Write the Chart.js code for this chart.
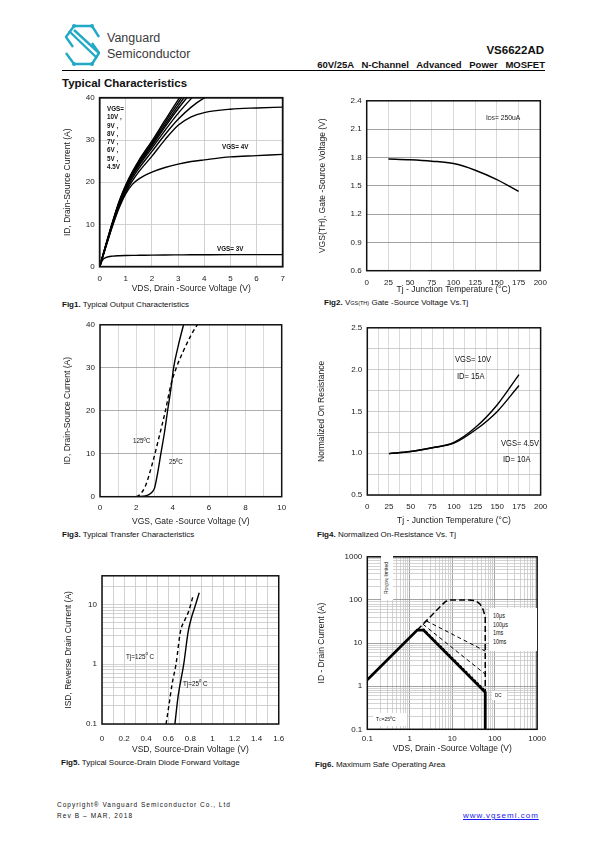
<!DOCTYPE html>
<html>
<head>
<meta charset="utf-8">
<script src="https://cdn.jsdelivr.net/npm/chart.js@4.4.1/dist/chart.umd.min.js"></script>
<style>
  body { margin: 0; background: #fff; }
  #page { position: relative; width: 595px; height: 842px; overflow: hidden; font-family: 'Liberation Sans', Arial, sans-serif; color: #111; }
  .abs { position: absolute; white-space: nowrap; line-height: 1; }
  canvas { position: absolute; }
  .cap { font-size: 8px; }
  .nar { transform: scaleX(0.84); transform-origin: 0 0; }
  .wbox { position: absolute; background: #fff; z-index: 5; }
  .lbl { z-index: 6; }
</style>
</head>
<body>
<div id="page">
  <!-- header -->
  <svg class="abs" style="left:62px;top:22px" width="42" height="46" viewBox="62 22 42 46">
    <g fill="none" stroke="#22a9c6" stroke-width="2.4" stroke-linejoin="round">
      <path d="M74 26 H92 L99 37"/>
      <path d="M74 26 L66 37 L73 47"/>
      <path d="M69 31 L97 58"/>
      <path d="M74 30 L99 53"/>
      <path d="M92 43 L99 53 L92 64 H74 L66 53"/>
    </g>
    <g fill="#22a9c6">
      <circle cx="74" cy="26" r="2"/><circle cx="92" cy="26" r="2"/>
      <circle cx="74" cy="64" r="2"/><circle cx="92" cy="64" r="2"/>
    </g>
  </svg>
  <div class="abs" style="left:107px;top:32px;font-size:12.5px;color:#3a3a3a">Vanguard</div>
  <div class="abs" style="left:107px;top:48px;font-size:12.5px;color:#3a3a3a">Semiconductor</div>
  <div class="abs" style="right:51px;top:45px;font-size:11.5px;font-weight:bold">VS6622AD</div>
  <div class="abs" style="right:50px;top:60px;font-size:9.5px;font-weight:bold;word-spacing:5px">60V/25A N-Channel Advanced Power MOSFET</div>
  <div class="abs" style="left:62px;top:70px;width:483px;height:1px;background:#000"></div>
  <div class="abs" style="left:62px;top:78px;font-size:11.5px;font-weight:bold">Typical Characteristics</div>

  <!-- captions -->
  <div class="abs cap" style="left:62px;top:301px"><b>Fig1.</b> Typical Output Characteristics</div>
  <div class="abs cap" style="left:324px;top:299px"><b>Fig2.</b> V<span style="font-size:5.5px">GS(TH)</span> Gate -Source Voltage Vs.Tj</div>
  <div class="abs cap" style="left:62px;top:531px"><b>Fig3.</b> Typical Transfer Characteristics</div>
  <div class="abs cap" style="left:317px;top:531px"><b>Fig4.</b> Normalized On-Resistance Vs. Tj</div>
  <div class="abs cap" style="left:61px;top:759px"><b>Fig5.</b> Typical Source-Drain Diode Forward Voltage</div>
  <div class="abs cap" style="left:315px;top:761px"><b>Fig6.</b> Maximum Safe Operating Area</div>

  <!-- in-plot labels -->
  <div class="abs nar lbl" style="left:106.5px;top:105px;font-size:7.5px;font-weight:bold;line-height:8.3px">VGS=<br>10V ,<br>9V ,<br>8V ,<br>7V ,<br>6V ,<br>5V ,<br>4.5V</div>
  <div class="abs nar lbl" style="left:222px;top:143px;font-size:7.5px;font-weight:bold">VGS= 4V</div>
  <div class="abs nar lbl" style="left:217px;top:244.5px;font-size:7.5px;font-weight:bold">VGS= 3V</div>
  <div class="abs nar lbl" style="left:486px;top:113.5px;font-size:8px">I<span style="font-size:6px">DS</span>= 250uA</div>
  <div class="abs nar lbl" style="left:132.5px;top:437px;font-size:7.5px">125ºC</div>
  <div class="abs nar lbl" style="left:169px;top:457.5px;font-size:7.5px">25ºC</div>
  <div class="abs nar lbl" style="left:455px;top:355px;font-size:9px">VGS= 10V</div>
  <div class="abs nar lbl" style="left:456.5px;top:371.5px;font-size:9px">ID= 15A</div>
  <div class="abs nar lbl" style="left:500.5px;top:438.5px;font-size:9px">VGS= 4.5V</div>
  <div class="abs nar lbl" style="left:502.5px;top:455px;font-size:9px">ID= 10A</div>
  <div class="abs nar lbl" style="left:126px;top:651px;font-size:7.5px">Tj=125<sup style="font-size:5px">o</sup> C</div>
  <div class="abs nar lbl" style="left:182.5px;top:677.5px;font-size:7.5px">Tj=25<sup style="font-size:5px">o</sup> C</div>

  <!-- SOA boxes -->
  <div class="wbox" style="left:381px;top:556px;width:12px;height:44px"></div>
  <div class="abs lbl" style="left:387px;top:578px;font-size:5px;transform:translate(-50%,-50%) rotate(-90deg)">R<span style="font-size:3.5px">DS(ON)</span> limited</div>
  <div class="wbox" style="left:489px;top:608px;width:48px;height:43px"></div>
  <div class="abs nar lbl" style="left:492.5px;top:612px;font-size:6.5px;line-height:8.7px">10μs<br>100μs<br>1ms<br>10ms</div>
  <div class="wbox" style="left:492px;top:690.5px;width:15px;height:9px"></div>
  <div class="abs nar lbl" style="left:495px;top:692.5px;font-size:5.5px">DC</div>
  <div class="wbox" style="left:373px;top:712.5px;width:34px;height:13px"></div>
  <div class="abs nar lbl" style="left:376px;top:716px;font-size:6px">T<span style="font-size:4px">C</span>=25ºC</div>

  <!-- footer -->
  <div class="abs" style="left:57px;top:801.5px;font-size:6.5px;letter-spacing:1px">Copyright® Vanguard Semiconductor Co., Ltd</div>
  <div class="abs" style="left:57px;top:813px;font-size:6.5px;letter-spacing:1.1px">Rev B – MAR, 2018</div>
  <div class="abs" style="left:463px;top:812px;font-size:8px;letter-spacing:1px;color:#1a1aee;text-decoration:underline">www.vgsemi.com</div>
</div>

<script>
// ---------- Fig1: output characteristics ----------
const f1Vds   = [0, 0.1, 0.25, 0.5, 0.75, 1, 1.25, 1.5, 2, 2.5, 3, 3.5, 4, 5, 6, 7];
const f1Id10V = [0, 2.2, 5.5, 10.8, 15.6, 19.4, 22.5, 25.2, 29.8, 34.7, 39.5, 44];
const f1Id9V  = [0, 2.2, 5.5, 10.7, 15.4, 19.2, 22.2, 24.9, 29.4, 34.2, 38.8, 43.2];
const f1Id8V  = [0, 2.2, 5.4, 10.6, 15.3, 19.0, 22.0, 24.6, 29.0, 33.6, 38.1, 42.3];
const f1Id7V  = [0, 2.2, 5.4, 10.5, 15.2, 18.8, 21.8, 24.3, 28.6, 33.1, 37.4, 41.3];
const f1Id6V  = [0, 2.1, 5.3, 10.4, 15.0, 18.6, 21.5, 23.9, 28.1, 32.3, 36.3, 39.8, 43];
const f1Id5V  = [0, 2.1, 5.2, 10.2, 14.7, 18.2, 21.0, 23.3, 27.3, 31.3, 34.9, 37.8, 40.0, 43];
const f1Id45V = [0, 2.0, 5.0, 10.0, 14.4, 17.7, 20.3, 22.5, 26.2, 30.1, 33.5, 35.5, 36.5, 37.3, 37.6, 37.8];
const f1Id4V  = [0, 2.0, 5.0, 9.8, 14.0, 17.3, 19.5, 20.8, 22.4, 23.5, 24.3, 24.9, 25.3, 26.0, 26.3, 26.6];
const f1Id3V  = [0, 1.5, 2.2, 2.5, 2.6, 2.65, 2.68, 2.7, 2.75, 2.78, 2.8, 2.82, 2.83, 2.85, 2.86, 2.86];
const f1XTicks = [0, 1, 2, 3, 4, 5, 6, 7];
const f1XLabels = ['0', '1', '2', '3', '4', '5', '6', '7'];
const f1YTicks = [0, 10, 20, 30, 40];
const f1YLabels = ['0', '10', '20', '30', '40'];

// ---------- Fig2: VGS(th) vs Tj ----------
const f2Tj = [25, 50, 75, 100, 125, 150, 175];
const f2Vth = [1.783, 1.775, 1.76, 1.735, 1.665, 1.565, 1.44];
const f2XTicks = [0, 25, 50, 75, 100, 125, 150, 175, 200];
const f2XLabels = ['0', '25', '50', '75', '100', '125', '150', '175', '200'];
const f2YTicks = [0.6, 0.9, 1.2, 1.5, 1.8, 2.1, 2.4];
const f2YLabels = ['0.6', '0.9', '1.2', '1.5', '1.8', '2.1', '2.4'];

// ---------- Fig3: transfer characteristics ----------
const f3Vgs25  = [1.7, 2.5, 2.8, 3.0, 3.15, 3.35, 3.55, 3.72, 3.9, 4.05, 4.3, 4.6, 4.7];
const f3Id25   = [0, 0.2, 0.8, 2, 5, 10, 15, 20, 25, 30, 35, 40, 41.5];
const f3Vgs125 = [2.0, 2.2, 2.5, 2.9, 3.2, 3.6, 3.9, 4.2, 4.6, 5.0, 5.35, 5.5];
const f3Id125  = [0, 0.5, 2.5, 8, 13, 20, 26, 30, 34, 37.5, 40, 41];
const f3XTicks = [0, 1, 2, 3, 4, 5, 6, 7, 8, 9, 10];
const f3XLabels = ['0', '', '2', '', '4', '', '6', '', '8', '', '10'];
const f3YTicks = [0, 10, 20, 30, 40];
const f3YLabels = ['0', '10', '20', '30', '40'];

// ---------- Fig4: normalized RDS(on) vs Tj ----------
const f4Tj = [25, 50, 75, 100, 125, 150, 175];
const f4R10V = [0.995, 1.02, 1.065, 1.13, 1.31, 1.58, 1.94];
const f4R45V = [0.995, 1.02, 1.065, 1.12, 1.28, 1.50, 1.81];
const f4XTicks = [0, 12.5, 25, 37.5, 50, 62.5, 75, 87.5, 100, 112.5, 125, 137.5, 150, 162.5, 175, 187.5, 200];
const f4XLabels = ['0', '', '25', '', '50', '', '75', '', '100', '', '125', '', '150', '', '175', '', '200'];
const f4YTicks = [0.5, 0.75, 1.0, 1.25, 1.5, 1.75, 2.0, 2.25, 2.5];
const f4YLabels = ['0.5', '', '1.0', '', '1.5', '', '2.0', '', '2.5'];

// ---------- Fig5: body diode forward voltage ----------
const f5Vsd25  = [0.66, 0.69, 0.74, 0.78, 0.81, 0.837, 0.88];
const f5Isd25  = [0.1, 0.3, 1, 3.5, 6, 8.6, 15.6];
const f5Vsd125 = [0.58, 0.605, 0.635, 0.67, 0.71, 0.75, 0.784, 0.828];
const f5Isd125 = [0.1, 0.2, 0.47, 1, 3.5, 5.5, 7.6, 14.6];
const f5XTicks = [0, 0.1, 0.2, 0.3, 0.4, 0.5, 0.6, 0.7, 0.8, 0.9, 1, 1.1, 1.2, 1.3, 1.4, 1.5, 1.6];
const f5XLabels = ['0', '', '0.2', '', '0.4', '', '0.6', '', '0.8', '', '1', '', '1.2', '', '1.4', '', '1.6'];
const f5YDecades = [0.1, 1, 10];
const f5YDecadeLabels = ['0.1', '1', '10'];

// ---------- Fig6: safe operating area ----------
const f6DcV = [0.1, 1.5, 2.1, 60, 60];
const f6DcI = [1.4, 20, 20, 0.72, 0.1];
const f6Us10V = [1.5, 5, 6, 7, 8.5, 10, 25, 32, 38, 44, 50, 54, 57, 59, 60, 60];
const f6Us10I = [20, 67, 80, 92, 99, 100, 100, 97, 91, 82, 70, 58, 48, 42, 38, 0.72];
const f6Us100V = [2.45, 60];
const f6Us100I = [32.7, 6.5];
const f6Ms1V = [2.05, 60];
const f6Ms1I = [27.3, 1.9];
const f6Ms10V = [2.1, 60];
const f6Ms10I = [21.5, 0.8];
const f6Decades = [0.1, 1, 10, 100, 1000];
const f6DecadeLabels = ['0.1', '1', '10', '100', '1000'];

const NARROW = "'Liberation Sans Narrow','Arial Narrow','Liberation Sans',Arial,sans-serif";
const SANS = "'Liberation Sans',Arial,sans-serif";
const TXT = '#1a1a1a';

function labeler(vals, labels) {
  return v => {
    const i = vals.findIndex(t => Math.abs(t - v) < 1e-6 * Math.max(1, Math.abs(t)));
    return i >= 0 ? labels[i] : '';
  };
}
// gridline values 1..9 per decade, up to top
function logGrid(decades, top) {
  const out = [];
  decades.forEach(d => [1, 2, 3, 4, 5, 6, 7, 8, 9].forEach(k => {
    const v = +(k * d).toPrecision(3);
    if (v <= top + 1e-9) out.push(v);
  }));
  return out;
}
function isDecade(v) {
  const l = Math.log10(v);
  return Math.abs(l - Math.round(l)) < 1e-6;
}

function line(xs, ys, o = {}) {
  return {
    data: xs.map((x, i) => ({ x, y: ys[i] })).filter(p => p.y != null),
    borderColor: '#000',
    borderWidth: o.w || 1.4,
    borderDash: o.dash || [],
    pointRadius: 0,
    tension: 0,
    cubicInterpolationMode: o.mono ? 'monotone' : 'default',
    fill: false
  };
}

function axis(o) {
  return {
    type: o.type || 'linear',
    min: o.min, max: o.max,
    afterBuildTicks: s => { s.ticks = o.grid.map(v => ({ value: v })); },
    afterFit: s => { if (s.isHorizontal()) s.height = o.size; else s.width = o.size; },
    grid: { color: o.gridColor, lineWidth: 0.8, drawTicks: false },
    border: { display: false },
    ticks: {
      autoSkip: false, maxRotation: 0, padding: o.pad, color: TXT,
      font: { family: NARROW, size: 8 },
      callback: labeler(o.tickVals || o.grid, o.labels)
    },
    title: { display: true, text: o.title, color: TXT, font: { family: SANS, size: 8.5 }, padding: { top: 4, bottom: 4 } }
  };
}

const framePlugin = {
  id: 'frame',
  afterDatasetsDraw(chart, args, opts) {
    const a = chart.chartArea, c = chart.ctx;
    c.save();
    c.strokeStyle = '#111';
    c.lineWidth = opts.width || 1.5;
    c.strokeRect(a.left, a.top, a.right - a.left, a.bottom - a.top);
    c.restore();
  }
};

// plot = [left, top, width, height] of the plotting area on the page
function makeChart(plot, xo, yo, datasets, frameW) {
  const [pl, pt, pw, ph] = plot;
  const left = Math.round(pl - yo.size);
  const top = Math.round(pt - 8);
  yo.size = pl - left;
  const padTop = pt - top;
  const W = Math.ceil(pl + pw + 12 - left);
  const padRight = W - (pl + pw - left);
  const H = Math.ceil(padTop + ph + xo.size);
  xo.size = H - padTop - ph;

  const cv = document.createElement('canvas');
  cv.width = W; cv.height = H;
  cv.style.left = left + 'px'; cv.style.top = top + 'px';
  cv.style.width = W + 'px'; cv.style.height = H + 'px';
  document.getElementById('page').appendChild(cv);

  new Chart(cv, {
    type: 'line',
    data: { datasets },
    options: {
      responsive: false, animation: false, devicePixelRatio: 1, events: [],
      layout: { padding: { top: padTop, right: padRight, left: 0, bottom: 0 } },
      scales: { x: axis(xo), y: axis(yo) },
      plugins: { legend: { display: false }, tooltip: { enabled: false }, frame: { width: frameW || 1.5 } }
    },
    plugins: [framePlugin]
  });
}

const LIGHT = '#c6c6c6';

// Fig1
makeChart([99.7, 96, 183, 170.7],
  { min: 0, max: 7, grid: f1XTicks, labels: f1XLabels, size: 30.7, pad: 7, gridColor: LIGHT, title: 'VDS, Drain -Source Voltage (V)' },
  { min: 0, max: 40, grid: f1YTicks, labels: f1YLabels, size: 40.8, pad: 5, gridColor: LIGHT, title: 'ID, Drain-Source Current (A)' },
  [f1Id10V, f1Id9V, f1Id8V, f1Id7V, f1Id6V, f1Id5V, f1Id45V, f1Id4V, f1Id3V].map(ys => line(f1Vds, ys, { mono: true, w: 1.4 })),
  1.8);

// Fig2
makeChart([366.7, 99, 175.3, 171.7],
  { min: 0, max: 200, grid: f2XTicks, labels: f2XLabels, size: 27.4, pad: 7, gridColor: '#d0d0d0', title: 'Tj - Junction Temperature (°C)' },
  { min: 0.6, max: 2.4, grid: f2YTicks, labels: f2YLabels, size: 52.5, pad: 5, gridColor: '#8a8a8a', title: 'VGS(TH), Gate -Source Voltage (V)' },
  [line(f2Tj, f2Vth, { mono: true, w: 1.5 })]);

// Fig3
makeChart([100, 323.3, 181.7, 173.4],
  { min: 0, max: 10, grid: f3XTicks, labels: f3XLabels, size: 34.1, pad: 6.6, gridColor: '#d0d0d0', title: 'VGS, Gate -Source Voltage (V)' },
  { min: 0, max: 40, grid: f3YTicks, labels: f3YLabels, size: 40.8, pad: 5, gridColor: '#9a9a9a', title: 'ID, Drain-Source Current (A)' },
  [line(f3Vgs25, f3Id25, { mono: true, w: 1.4 }), line(f3Vgs125, f3Id125, { mono: true, w: 1.4, dash: [4, 3] })]);

// Fig4
makeChart([367.3, 326, 174.4, 169],
  { min: 0, max: 200, grid: f4XTicks, labels: f4XLabels, size: 34.8, pad: 6.7, gridColor: '#d0d0d0', title: 'Tj - Junction Temperature (°C)' },
  { min: 0.5, max: 2.5, grid: f4YTicks, labels: f4YLabels, size: 54.7, pad: 5, gridColor: '#c0c0c0', title: 'Normalized On Resistance' },
  [line(f4Tj, f4R10V, { mono: true, w: 1.4 }), line(f4Tj, f4R45V, { mono: true, w: 1.4 })]);

// Fig5
makeChart([102, 573.7, 179.7, 150.3],
  { min: 0, max: 1.6, grid: f5XTicks, labels: f5XLabels, size: 34.1, pad: 9.7, gridColor: LIGHT, title: 'VSD, Source-Drain Voltage (V)' },
  { type: 'logarithmic', min: 0.1, max: 30, grid: logGrid(f5YDecades, 30), tickVals: f5YDecades, labels: f5YDecadeLabels, size: 42.1, pad: 5, gridColor: LIGHT, title: 'ISD, Reverse Drain Current (A)' },
  [line(f5Vsd25, f5Isd25, { mono: true, w: 1.4 }), line(f5Vsd125, f5Isd125, { mono: true, w: 1.4, dash: [4, 3] })]);

// Fig6
const f6Grid = ctx => isDecade(ctx.tick.value) ? '#8c8c8c' : '#c8c8c8';
makeChart([367.3, 555, 171.4, 174.3],
  { type: 'logarithmic', min: 0.1, max: 1000, grid: logGrid(f6Decades, 1000), tickVals: f6Decades, labels: f6DecadeLabels, size: 28.1, pad: 5, gridColor: f6Grid, title: 'VDS, Drain -Source Voltage (V)' },
  { type: 'logarithmic', min: 0.1, max: 1000, grid: logGrid(f6Decades, 1000), tickVals: f6Decades, labels: f6DecadeLabels, size: 54.1, pad: 5, gridColor: f6Grid, title: 'ID - Drain Current (A)' },
  [
    line(f6Us10V, f6Us10I, { w: 1.5, dash: [6, 3] }),
    line(f6Us100V, f6Us100I, { w: 1, dash: [4, 3] }),
    line(f6Ms1V, f6Ms1I, { w: 1, dash: [4, 3] }),
    line(f6Ms10V, f6Ms10I, { w: 1.2, dash: [2, 2] }),
    line(f6DcV, f6DcI, { w: 2.8 })
  ]);
</script>
</body>
</html>
